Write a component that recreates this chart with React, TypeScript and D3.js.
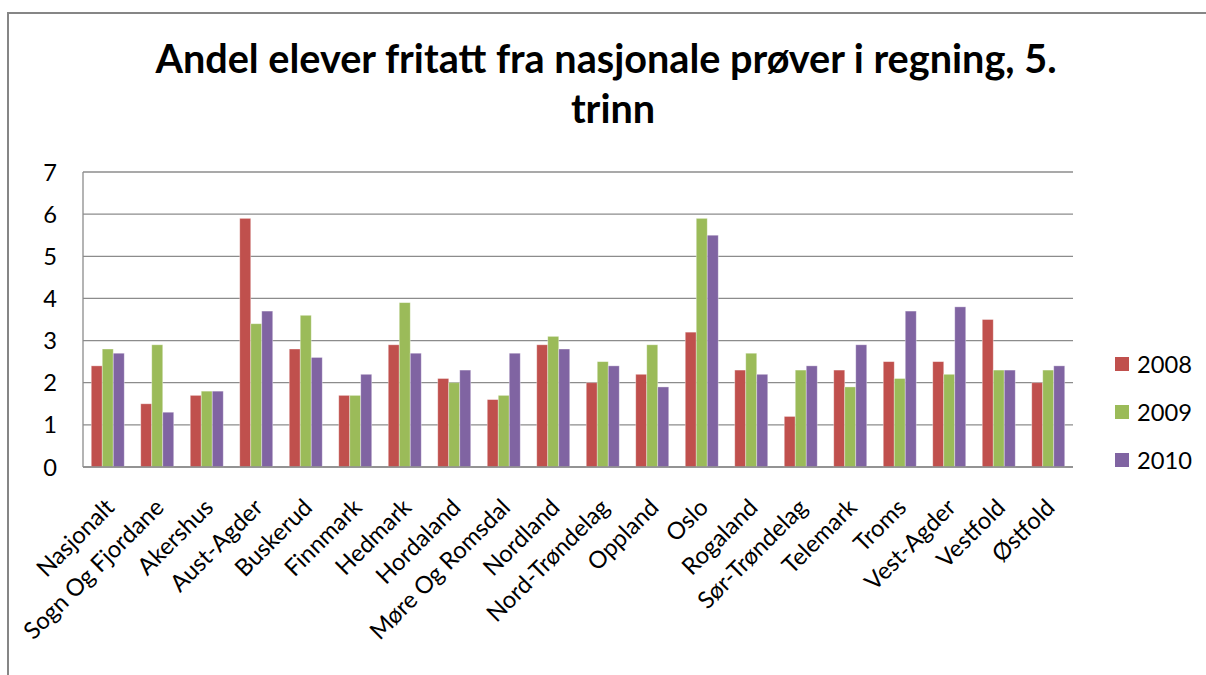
import React from "react";
import * as d3 from "d3";

const categories = [
  "Nasjonalt", "Sogn Og Fjordane", "Akershus", "Aust-Agder", "Buskerud",
  "Finnmark", "Hedmark", "Hordaland", "Møre Og Romsdal", "Nordland",
  "Nord-Trøndelag", "Oppland", "Oslo", "Rogaland", "Sør-Trøndelag",
  "Telemark", "Troms", "Vest-Agder", "Vestfold", "Østfold",
];
const values2008 = [2.4, 1.5, 1.7, 5.9, 2.8, 1.7, 2.9, 2.1, 1.6, 2.9, 2.0, 2.2, 3.2, 2.3, 1.2, 2.3, 2.5, 2.5, 3.5, 2.0];
const values2009 = [2.8, 2.9, 1.8, 3.4, 3.6, 1.7, 3.9, 2.0, 1.7, 3.1, 2.5, 2.9, 5.9, 2.7, 2.3, 1.9, 2.1, 2.2, 2.3, 2.3];
const values2010 = [2.7, 1.3, 1.8, 3.7, 2.6, 2.2, 2.7, 2.3, 2.7, 2.8, 2.4, 1.9, 5.5, 2.2, 2.4, 2.9, 3.7, 3.8, 2.3, 2.4];
const seriesNames = ["2008", "2009", "2010"];
const seriesColors = ["#C0504D", "#9BBB59", "#8064A2"];
const yTicks = [0, 1, 2, 3, 4, 5, 6, 7];
const titleLines = ["Andel elever fritatt fra nasjonale prøver i regning, 5.", "trinn"];

const FONT = "Lato, 'Open Sans', sans-serif";

function fitSize(text: string, weight: string, target: number, fallback: number) {
  try {
    const ctx = document.createElement("canvas").getContext("2d");
    if (!ctx) return fallback;
    ctx.font = `${weight} 100px Lato`;
    const w = ctx.measureText(text).width;
    if (!w) return fallback;
    return (100 * target) / w;
  } catch (e) {
    return fallback;
  }
}

export default function App() {
  const W = 1206;
  const H = 675;
  const left = 83;
  const right = 1073;
  const top = 172;
  const bottom = 467;

  const series = [values2008, values2009, values2010];

  const x0 = d3.scaleBand<string>().domain(categories).range([left, right]).padding(0);
  const x1 = d3
    .scaleBand<string>()
    .domain(seriesNames)
    .range([0, x0.bandwidth()])
    .paddingInner(0)
    .paddingOuter(0.75);
  const y = d3.scaleLinear().domain([0, 7]).range([bottom, top]);

  const titleSize = fitSize(titleLines[0], "bold", 903, 34);
  const axisSize = fitSize("2008", "normal", 55, 23);

  return (
    <svg
      width={W}
      height={H}
      style={{ position: "absolute", left: 0, top: 0, background: "#fff" }}
      fontFamily={FONT}
    >
      <rect x={0} y={0} width={W} height={H} fill="#fff" />
      {/* chart frame (cropped on right/bottom) */}
      <rect x={8} y={13} width={W + 40} height={H + 40} fill="none" stroke="#868686" strokeWidth={2} />

      {/* title */}
      <text x={606} y={73} textAnchor="middle" fontWeight="bold" fontSize={titleSize} fill="#000">
        {titleLines[0]}
      </text>
      <text x={613} y={123} textAnchor="middle" fontWeight="bold" fontSize={titleSize} fill="#000">
        {titleLines[1]}
      </text>

      {/* gridlines */}
      {yTicks.map((t) => (
        <line
          key={"g" + t}
          x1={left}
          x2={right}
          y1={y(t)}
          y2={y(t)}
          stroke="#8c8c8c"
          strokeWidth={1.3}
        />
      ))}
      {/* y axis line */}
      <line x1={left} x2={left} y1={top} y2={bottom} stroke="#8c8c8c" strokeWidth={1.3} />

      {/* y tick labels */}
      {yTicks.map((t) => (
        <text
          key={"t" + t}
          x={57}
          y={y(t)}
          dy="0.36em"
          textAnchor="end"
          fontSize={axisSize}
          fill="#000"
        >
          {t}
        </text>
      ))}

      {/* bars */}
      {categories.map((c, i) => (
        <g key={c} transform={`translate(${x0(c)},0)`}>
          {seriesNames.map((s, j) => {
            const v = series[j][i];
            return (
              <rect
                key={s}
                x={x1(s)}
                y={y(v)}
                width={x1.bandwidth()}
                height={y(0) - y(v)}
                fill={seriesColors[j]}
                stroke="#ffffff"
                strokeOpacity={0.45}
                strokeWidth={0.8}
              />
            );
          })}
        </g>
      ))}

      {/* x axis line */}
      <line x1={left} x2={right} y1={bottom} y2={bottom} stroke="#8c8c8c" strokeWidth={1.3} />

      {/* x labels */}
      {categories.map((c) => {
        const cx = (x0(c) as number) + x0.bandwidth() / 2 + 8;
        const cy = 509;
        return (
          <text
            key={"l" + c}
            transform={`translate(${cx},${cy}) rotate(-45)`}
            textAnchor="end"
            fontSize={axisSize}
            fill="#000"
          >
            {c}
          </text>
        );
      })}

      {/* legend */}
      {seriesNames.map((s, j) => {
        const ly = 364 + j * 48;
        return (
          <g key={"lg" + s}>
            <rect x={1115} y={ly - 7} width={14} height={14} fill={seriesColors[j]} />
            <text x={1137} y={ly} dy="0.36em" fontSize={axisSize} fill="#000">
              {s}
            </text>
          </g>
        );
      })}
    </svg>
  );
}
